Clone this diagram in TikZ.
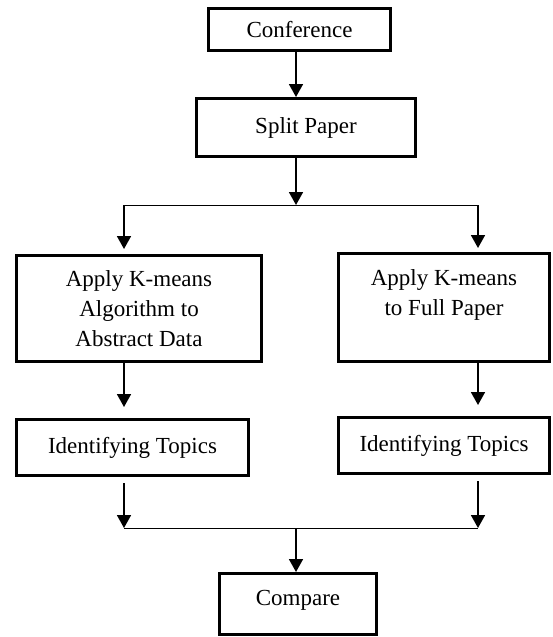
\documentclass[tikz,border=0pt]{standalone}
\usepackage{fontspec}
\setmainfont{Liberation Serif}
\usetikzlibrary{arrows.meta}
\begin{document}
\begin{tikzpicture}[x=1pt,y=-1pt,
  box/.style={draw, line width=2.6pt, inner sep=0pt, align=center,
    font=\fontsize{23}{30}\selectfont},
  flow/.style={line width=1.8pt, -{Triangle[length=13pt,width=14pt]}},
  rail/.style={line width=0.9pt}]
\useasboundingbox (0,0) rectangle (552,637);

% process boxes (sizes are the border centre lines)
\node[box, minimum width=182.4pt, minimum height=42.4pt] (conf) at (299.5,29.5) {Conference};
\node[box, minimum width=219.4pt, minimum height=58.4pt] (split) at (306,127.5) {Split Paper};
\node[box, minimum width=245.4pt, minimum height=106.4pt] (kml) at (139,308.5)
  {Apply K-means\\Algorithm to\\Abstract Data};
\node[box, minimum width=211.4pt, minimum height=108.4pt] (kmr) at (444,307.5)
  {Apply K-means\\to Full Paper\\\mbox{}};
\node[box, minimum width=232.4pt, minimum height=56.4pt] (idl) at (132.5,447.5) {Identifying Topics};
\node[box, minimum width=211.4pt, minimum height=56.4pt] (idr) at (444,445.5) {Identifying Topics};
\node[box, minimum width=157.4pt, minimum height=61.4pt, text depth=12pt] (cmp) at (298,604) {Compare};

% branch and merge points
\coordinate (spine) at (296,0);
\coordinate (fk) at (296,205);
\coordinate (lf) at (124,205);
\coordinate (rf) at (478,205);
\coordinate (ml) at (124,528);
\coordinate (mr) at (478,528);
\coordinate (mc) at (296,528);

% connectors
\draw[flow] (conf.south -| spine) -- (split.north -| spine);
\draw[flow] (split.south -| fk) -- (fk);
\draw[rail] (lf) -- (rf);
\draw[flow, shorten >=5pt] (lf) -- (kml.north -| lf);
\draw[flow, shorten >=4pt] (rf) -- (kmr.north -| rf);
\draw[flow, shorten >=11pt] (kml.south -| lf) -- (idl.north -| lf);
\draw[flow, shorten >=11pt] (kmr.south -| rf) -- (idr.north -| rf);
\draw[flow, shorten <=6pt] (idl.south -| ml) -- (ml);
\draw[flow, shorten <=6pt] (idr.south -| mr) -- (mr);
\draw[rail] (ml) -- (mr);
\draw[flow] (mc) -- (cmp.north -| mc);
\end{tikzpicture}
\end{document}
